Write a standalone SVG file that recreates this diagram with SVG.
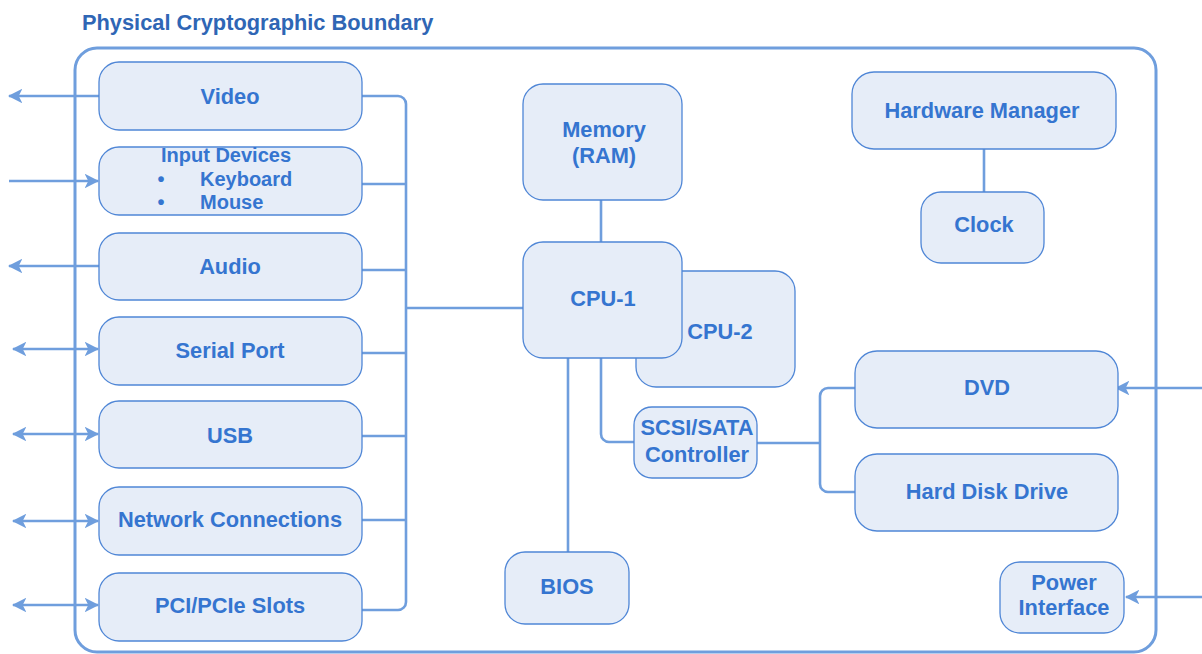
<svg xmlns="http://www.w3.org/2000/svg" width="1202" height="654" viewBox="0 0 1202 654">
<defs>
<style>
.box{fill:#e6edf8;stroke:#4f86d6;stroke-width:1.3}
.lbl{font-family:"Liberation Sans",Arial,sans-serif;font-weight:bold;font-size:21.8px;fill:#3575d0;text-anchor:middle}
.sm{font-size:20px}
.title{font-family:"Liberation Sans",Arial,sans-serif;font-weight:bold;font-size:21.8px;fill:#2f66b5}
.con{fill:none;stroke:#6f9edd;stroke-width:2.6}
.bnd{fill:none;stroke:#6f9edd;stroke-width:3}
</style>
<marker id="ah" viewBox="0 0 12 12" refX="11" refY="6" markerWidth="5.6" markerHeight="5.6" orient="auto-start-reverse" markerUnits="strokeWidth">
<path d="M0,0 L12,6 L0,12 L3,6 Z" fill="#6f9edd"/>
</marker>
</defs>
<rect width="1202" height="654" fill="#ffffff"/>
<text class="title" x="82" y="30">Physical Cryptographic Boundary</text>
<rect id="boundary" class="bnd" x="75" y="48" width="1081" height="604" rx="22"/>

<g id="connectors">
<path class="con" d="M99,96 H9" marker-end="url(#ah)"/>
<path class="con" d="M9,181 H98" marker-end="url(#ah)"/>
<path class="con" d="M99,266 H9" marker-end="url(#ah)"/>
<path class="con" d="M13,349 H98" marker-start="url(#ah)" marker-end="url(#ah)"/>
<path class="con" d="M13,434 H98" marker-start="url(#ah)" marker-end="url(#ah)"/>
<path class="con" d="M13,521 H98" marker-start="url(#ah)" marker-end="url(#ah)"/>
<path class="con" d="M13,605 H98" marker-start="url(#ah)" marker-end="url(#ah)"/>
<path class="con" d="M1202,388 H1116" marker-end="url(#ah)"/>
<path class="con" d="M1202,597 H1126" marker-end="url(#ah)"/>

<path class="con" d="M362,96 H398 A8,8 0 0 1 406,104 V602 A8,8 0 0 1 398,610 H362"/>
<path class="con" d="M362,184 H406 M362,270 H406 M362,353 H406 M362,436 H406 M362,520 H406"/>
<path class="con" d="M406,308 H523"/>
<path class="con" d="M601,200 V242"/>
<path class="con" d="M568,358 V552"/>
<path class="con" d="M601,358 V434 A8,8 0 0 0 609,442 H634"/>
<path class="con" d="M757,443 H820"/>
<path class="con" d="M855,388 H828 A8,8 0 0 0 820,396 V484 A8,8 0 0 0 828,492 H855"/>
<path class="con" d="M984,149 V192"/>
</g>

<g id="video"><rect class="box" x="99" y="62" width="263" height="68" rx="20"/><text class="lbl" x="230" y="104">Video</text></g>
<g id="input-devices"><rect class="box" x="99" y="147" width="263" height="68" rx="20"/>
<text class="lbl sm" x="226" y="162">Input Devices</text>
<text class="lbl sm" x="161" y="186">•</text><text class="lbl sm" x="200" y="186" style="text-anchor:start">Keyboard</text>
<text class="lbl sm" x="161" y="209">•</text><text class="lbl sm" x="200" y="209" style="text-anchor:start">Mouse</text></g>
<g id="audio"><rect class="box" x="99" y="233" width="263" height="67" rx="20"/><text class="lbl" x="230" y="274">Audio</text></g>
<g id="serial-port"><rect class="box" x="99" y="317" width="263" height="68" rx="20"/><text class="lbl" x="230" y="358">Serial Port</text></g>
<g id="usb"><rect class="box" x="99" y="401" width="263" height="67" rx="20"/><text class="lbl" x="230" y="443">USB</text></g>
<g id="network"><rect class="box" x="99" y="487" width="263" height="68" rx="20"/><text class="lbl" x="230" y="527">Network Connections</text></g>
<g id="pci"><rect class="box" x="99" y="573" width="263" height="68" rx="20"/><text class="lbl" x="230" y="613">PCI/PCIe Slots</text></g>

<g id="memory"><rect class="box" x="523" y="84" width="159" height="116" rx="20"/><text class="lbl" x="604" y="137">Memory</text><text class="lbl" x="604" y="163">(RAM)</text></g>
<g id="cpu-2"><rect class="box" x="636" y="271" width="159" height="116" rx="20"/><text class="lbl" x="720" y="339">CPU-2</text></g>
<g id="cpu-1"><rect class="box" x="523" y="242" width="159" height="116" rx="20"/><text class="lbl" x="603" y="306">CPU-1</text></g>
<g id="scsi"><rect class="box" x="634" y="407" width="123" height="71" rx="18"/><text class="lbl" x="697" y="435">SCSI/SATA</text><text class="lbl" x="697" y="462">Controller</text></g>
<g id="bios"><rect class="box" x="505" y="552" width="124" height="72" rx="20"/><text class="lbl" x="567" y="594">BIOS</text></g>

<g id="hardware-manager"><rect class="box" x="852" y="72" width="264" height="77" rx="22"/><text class="lbl" x="982" y="118">Hardware Manager</text></g>
<g id="clock"><rect class="box" x="921" y="192" width="123" height="71" rx="20"/><text class="lbl" x="984" y="232">Clock</text></g>
<g id="dvd"><rect class="box" x="855" y="351" width="263" height="77" rx="22"/><text class="lbl" x="987" y="395">DVD</text></g>
<g id="hdd"><rect class="box" x="855" y="454" width="263" height="77" rx="22"/><text class="lbl" x="987" y="499">Hard Disk Drive</text></g>
<g id="power"><rect class="box" x="1000" y="562" width="124" height="71" rx="20"/><text class="lbl" x="1064" y="590">Power</text><text class="lbl" x="1064" y="615">Interface</text></g>
</svg>
